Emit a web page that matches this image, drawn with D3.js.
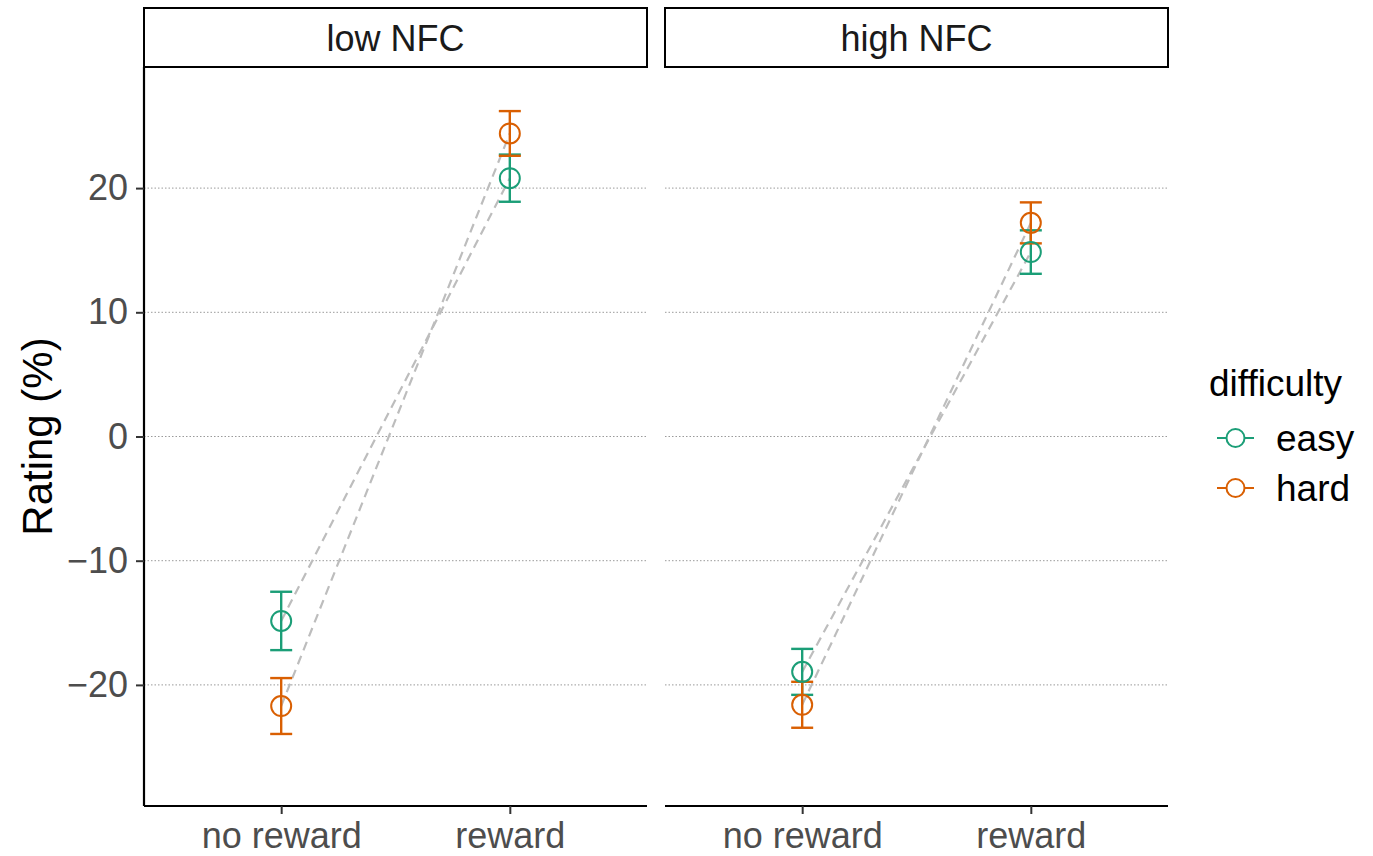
<!doctype html>
<html>
<head>
<meta charset="utf-8"/>
<title>Rating by reward and difficulty</title>
<script src="https://d3js.org/d3.v7.min.js"></script>
<style>
  body { margin: 0; background: #fff; }
  text { font-family: "Liberation Sans", Arial, Helvetica, sans-serif; }
</style>
</head>
<body>
<script>
// data
var panels = ["low NFC", "high NFC"];
var conditions = ["no reward", "reward"];
var difficulties = ["easy", "hard"];
var colors = ["#1b9e77", "#d95f02"];
var yTicks = [-20, -10, 0, 10, 20];

// means per panel, per difficulty, per condition
var lowEasy = [-14.85, 20.8];
var lowHard = [-21.7, 24.4];
var highEasy = [-18.95, 14.85];
var highHard = [-21.6, 17.2];
// half width of the error bars
var lowEasyErr = [2.35, 1.9];
var lowHardErr = [2.25, 1.8];
var highEasyErr = [1.85, 1.75];
var highHardErr = [1.85, 1.65];

var rows = [];
[[lowEasy, lowEasyErr, lowHard, lowHardErr], [highEasy, highEasyErr, highHard, highHardErr]]
  .forEach(function(p, pi) {
    conditions.forEach(function(c, ci) {
      rows.push({panel: panels[pi], cond: c, diff: "easy", m: p[0][ci], e: p[1][ci]});
      rows.push({panel: panels[pi], cond: c, diff: "hard", m: p[2][ci], e: p[3][ci]});
    });
  });

var W = 1373, H = 856;
var svg = d3.select("body").append("svg").attr("width", W).attr("height", H);

var yTop = 67, yBottom = 806;
var panelX = [144, 665], panelW = 503;

var y = d3.scaleLinear().domain([-29.75, 29.75]).range([yBottom, yTop]);
var col = d3.scaleOrdinal().domain(difficulties).range(colors);

panels.forEach(function(name, pi) {
  var x0 = panelX[pi];
  var g = svg.append("g");
  var x = d3.scalePoint().domain(conditions).range([x0, x0 + panelW]).padding(0.6);

  // strip
  g.append("rect").attr("x", x0).attr("y", 8).attr("width", panelW).attr("height", 59)
    .attr("fill", "#fff").attr("stroke", "#000").attr("stroke-width", 2);
  g.append("text").attr("x", x0 + panelW / 2).attr("y", 38).attr("dy", "0.35em")
    .attr("text-anchor", "middle").attr("font-size", 36).attr("fill", "#1a1a1a").text(name);

  // grid
  g.selectAll(".grid").data(yTicks).enter().append("line")
    .attr("x1", x0).attr("x2", x0 + panelW)
    .attr("y1", function(d) { return y(d); }).attr("y2", function(d) { return y(d); })
    .attr("stroke", "#9a9a9a").attr("stroke-width", 1).attr("stroke-dasharray", "1.5,2");

  // x axis
  var xa = g.append("g").attr("transform", "translate(0," + yBottom + ")")
    .call(d3.axisBottom(x).tickSize(8).tickPadding(8));
  xa.select(".domain").attr("d", "M" + x0 + ",0H" + (x0 + panelW)).attr("stroke", "#000").attr("stroke-width", 2.2);
  xa.selectAll(".tick line").attr("stroke", "#333").attr("stroke-width", 2);
  xa.selectAll("text").attr("font-size", 36).attr("fill", "#4d4d4d").attr("font-family", null);

  // y axis only on first panel
  if (pi == 0) {
    var ya = g.append("g").attr("transform", "translate(" + x0 + ",0)")
      .call(d3.axisLeft(y).tickValues(yTicks).tickSize(8).tickPadding(8)
        .tickFormat(function(d) { return d < 0 ? "\u2212" + Math.abs(d) : d; }));
    ya.select(".domain").attr("d", "M0," + yTop + "V" + yBottom).attr("stroke", "#000").attr("stroke-width", 2.2);
    ya.selectAll(".tick line").attr("stroke", "#333").attr("stroke-width", 2);
    ya.selectAll("text").attr("font-size", 36).attr("fill", "#4d4d4d").attr("font-family", null);
  }

  var pr = rows.filter(function(r) { return r.panel == name; });

  // dashed connecting lines
  difficulties.forEach(function(dname) {
    var pts = pr.filter(function(r) { return r.diff == dname; });
    g.append("path").datum(pts)
      .attr("d", d3.line().x(function(r) { return x(r.cond); }).y(function(r) { return y(r.m); }))
      .attr("fill", "none").attr("stroke", "#bdbdbd").attr("stroke-width", 2.2)
      .attr("stroke-dasharray", "9,6");
  });

  // error bars
  var cap = 11;
  var eb = g.selectAll(".eb").data(pr).enter().append("g")
    .attr("stroke", function(r) { return col(r.diff); }).attr("stroke-width", 2.4).attr("fill", "none");
  eb.append("line").attr("x1", function(r) { return x(r.cond); }).attr("x2", function(r) { return x(r.cond); })
    .attr("y1", function(r) { return y(r.m + r.e); }).attr("y2", function(r) { return y(r.m - r.e); });
  eb.append("line").attr("x1", function(r) { return x(r.cond) - cap; }).attr("x2", function(r) { return x(r.cond) + cap; })
    .attr("y1", function(r) { return y(r.m + r.e); }).attr("y2", function(r) { return y(r.m + r.e); });
  eb.append("line").attr("x1", function(r) { return x(r.cond) - cap; }).attr("x2", function(r) { return x(r.cond) + cap; })
    .attr("y1", function(r) { return y(r.m - r.e); }).attr("y2", function(r) { return y(r.m - r.e); });

  // points (hollow)
  g.selectAll(".pt").data(pr).enter().append("circle")
    .attr("cx", function(r) { return x(r.cond); }).attr("cy", function(r) { return y(r.m); })
    .attr("r", 10).attr("fill", "none")
    .attr("stroke", function(r) { return col(r.diff); }).attr("stroke-width", 2);
});

// y title
svg.append("text").attr("transform", "translate(37," + ((yTop + yBottom) / 2) + ") rotate(-90)")
  .attr("text-anchor", "middle").attr("dy", "0.35em").attr("font-size", 42).attr("fill", "#000")
  .text("Rating (%)");

// legend
var lg = svg.append("g");
lg.append("text").attr("x", 1209).attr("y", 383).attr("dy", "0.35em").attr("font-size", 37)
  .attr("fill", "#000").text("difficulty");
difficulties.forEach(function(dname, i) {
  var ky = 438 + i * 50;
  lg.append("line").attr("x1", 1217).attr("x2", 1254).attr("y1", ky).attr("y2", ky)
    .attr("stroke", col(dname)).attr("stroke-width", 2);
  lg.append("circle").attr("cx", 1235.5).attr("cy", ky).attr("r", 9)
    .attr("fill", "#fff").attr("stroke", col(dname)).attr("stroke-width", 2);
  lg.append("text").attr("x", 1276).attr("y", ky).attr("dy", "0.35em").attr("font-size", 37)
    .attr("fill", "#000").text(dname);
});
</script>
</body>
</html>
